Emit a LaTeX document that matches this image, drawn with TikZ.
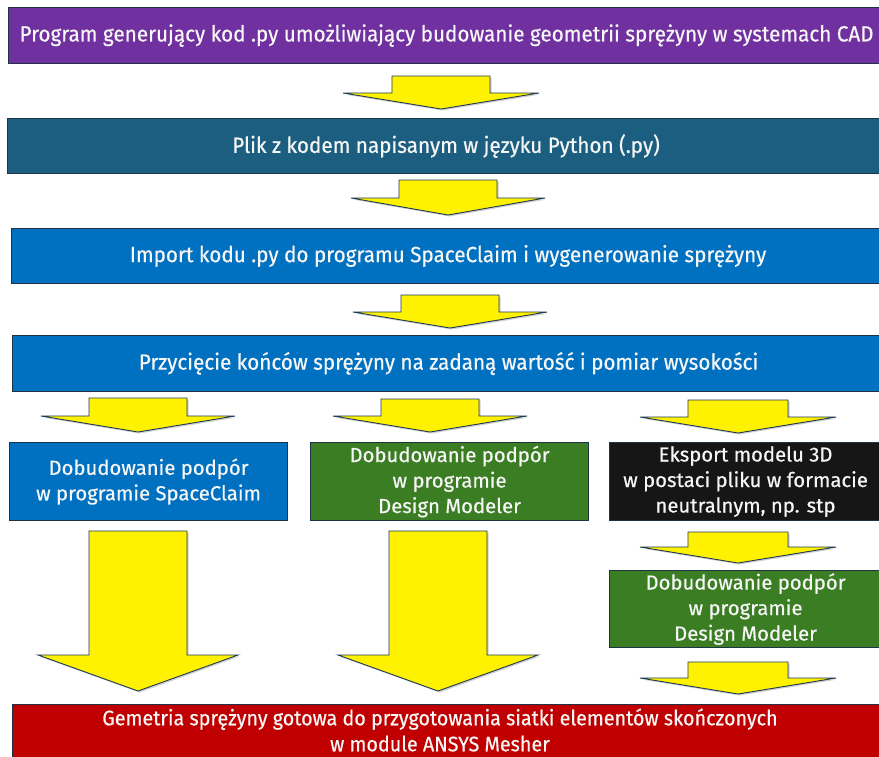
\documentclass[tikz,border=0pt]{standalone}
\usepackage{fontspec}
\setmainfont[FakeBold=0.5]{Fira Sans}
\newfontfamily\condfont[FakeStretch=0.94,FakeBold=0.5]{Fira Sans}
\definecolor{cpurple}{HTML}{7030A0}
\definecolor{cteal}{HTML}{1B5E80}
\definecolor{cblue}{HTML}{0070C0}
\definecolor{cgreen}{HTML}{3A7D22}
\definecolor{cblack}{HTML}{161616}
\definecolor{cred}{HTML}{C00000}
\definecolor{boxline}{HTML}{1E3446}
\definecolor{arrline}{HTML}{1F3A55}
\definecolor{txtwhite}{HTML}{F6F6F6}
\newcommand\barrowpath[6]{({#1-#5},#2) -- ({#1+#5},#2) -- ({#1+#5},#3) -- ({#1+#6},#3) -- (#1,#4) -- ({#1-#6},#3) -- ({#1-#5},#3) -- cycle}
\newcommand\barrow[6]{%
  \fill[black!30,opacity=0.6,shift={(1.5,1.5)}] \barrowpath{#1}{#2}{#3}{#4}{#5}{#6};
  \draw[yarrow] \barrowpath{#1}{#2}{#3}{#4}{#5}{#6};}
\begin{document}
\begin{tikzpicture}[x=1pt,y=-1pt,
  box/.style={draw=boxline, line width=1.1pt, text=txtwhite, inner sep=0pt, anchor=north west, align=center},
  topfont/.style={font=\condfont\fontsize{22}{26}\selectfont},
  lowfont/.style={font=\fontsize{20.3}{25.5}\selectfont},
  yarrow/.style={fill=yellow, draw=arrline, line width=0.9pt, line join=miter}]
\useasboundingbox (0,0) rectangle (879,756);
\fill[white] (0,0) rectangle (879,756);

\node[box, topfont, fill=cpurple, minimum width=876pt, minimum height=56pt] (p1) at (8,7)
  {Program generujący kod .py umożliwiający budowanie geometrii sprężyny w systemach CAD};
\node[box, topfont, fill=cteal, minimum width=877pt, minimum height=55pt] (p2) at (7,118)
  {Plik z kodem napisanym w języku Python (.py)};
\node[box, topfont, fill=cblue, minimum width=873pt, minimum height=55pt] (p3) at (11,228)
  {Import kodu .py do programu SpaceClaim i wygenerowanie sprężyny};
\node[box, topfont, fill=cblue, minimum width=872pt, minimum height=56pt] (p4) at (12,335)
  {Przycięcie końców sprężyny na zadaną wartość i pomiar wysokości};

\node[box, lowfont, fill=cblue, minimum width=278pt, minimum height=78pt] (a1) at (9,442)
  {Dobudowanie podpór\\w programie SpaceClaim};
\node[box, lowfont, fill=cgreen, minimum width=278pt, minimum height=78pt] (b1) at (310,442)
  {Dobudowanie podpór\\w programie\\Design Modeler};
\node[box, lowfont, fill=cblack, minimum width=272pt, minimum height=78pt] (c1) at (609,442)
  {Eksport modelu 3D\\w postaci pliku w formacie\\neutralnym, np. stp};
\node[box, lowfont, fill=cgreen, minimum width=272pt, minimum height=77pt] (c2) at (609,570)
  {Dobudowanie podpór\\w programie\\Design Modeler};
\node[box, fill=cred, minimum width=870pt, minimum height=70pt] (r1) at (12,704) {};
\node[font=\condfont\fontsize{21}{26}\selectfont, text=txtwhite, align=center, inner sep=0pt] (r1t) at (440,730)
  {Gemetria sprężyny gotowa do przygotowania siatki elementów skończonych\\w module ANSYS Mesher};

% block arrows: cx, ytop, ywing, ytip, half shaft, half wing
\barrow{441}{76}{93}{109}{49}{98}
\barrow{448}{180}{198}{215}{49}{97}
\barrow{450}{295}{312}{328}{49}{97}
\barrow{138}{398}{416}{432}{49}{97}
\barrow{430}{399}{416}{432}{49}{97}
\barrow{738}{400}{417}{433}{50}{98}
\barrow{138}{531}{655}{691}{49}{100}
\barrow{438}{531}{655}{691}{49}{100}
\barrow{738}{532}{547}{563}{50}{98}
\barrow{738}{662}{678}{694}{50}{98}
\end{tikzpicture}
\end{document}
